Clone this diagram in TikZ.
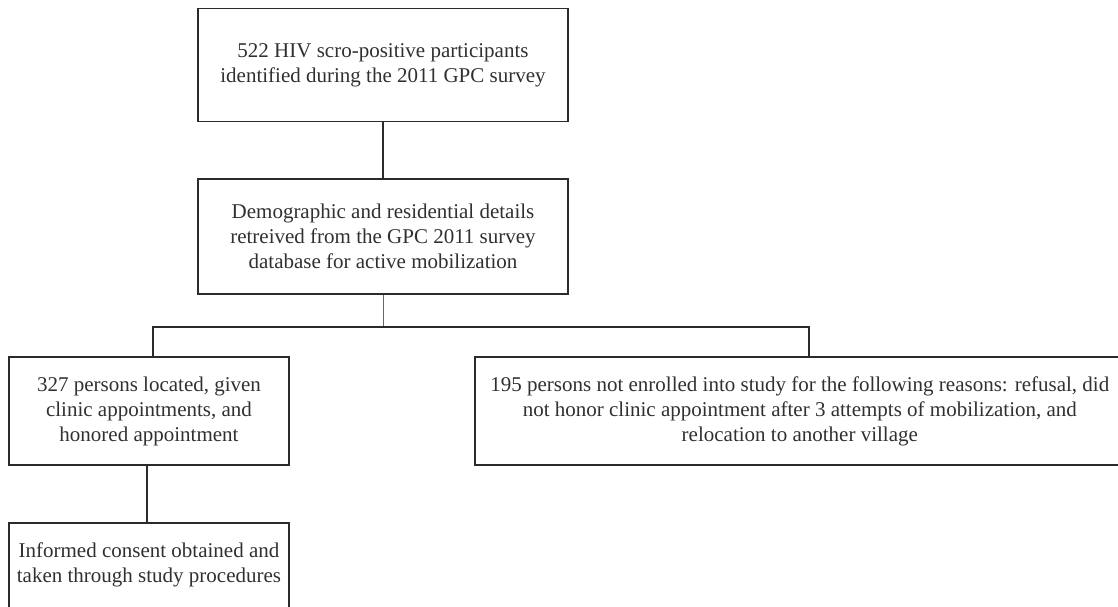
\documentclass[tikz,border=0pt]{standalone}
\usepackage{fontspec}
\setmainfont{Liberation Serif}
\usetikzlibrary{positioning}
\definecolor{boxline}{HTML}{2B2B2B}
\definecolor{boxtext}{HTML}{303030}
\tikzset{
    stagebox/.style={draw=boxline, rectangle, line width=1.8pt, inner sep=0pt, align=center, text=boxtext, font=\fontsize{21}{25}\selectfont},
    link/.style={draw=boxline, line width=2.8pt},
    thinlink/.style={draw=black!60, line width=1pt}
}
\begin{document}
\begin{tikzpicture}[x=1pt, y=-1pt]
        % Frame
        \useasboundingbox (0,0) rectangle (1118,606);
        \clip (0,0) rectangle (1118,606);

        % Survey and database
        \node (survey) [stagebox, minimum width=370pt, minimum height=113pt] at (383,65) {522 HIV scro-positive participants\\identified during the 2011 GPC survey};
        \node (details) [stagebox, minimum width=370pt, minimum height=115pt, below=56pt of survey] {Demographic and residential details\\retreived from the GPC 2011 survey\\database for active mobilization};

        % Outcomes
        \node (located) [stagebox, minimum width=280pt, minimum height=108pt] at (149,411) {327 persons located, given\\clinic appointments, and\\honored appointment};
        \node (notenrolled) [stagebox, minimum width=650pt, minimum height=108pt, right=184pt of located] {195 persons not enrolled into study for the following reasons: refusal, did\\not honor clinic appointment after 3 attempts of mobilization, and\\relocation to another village};
        \node (consent) [stagebox, minimum width=280pt, minimum height=104pt, below=56pt of located] {Informed consent obtained and\\taken through study procedures\\\mbox{}};

        % Bus between the stages
        \coordinate (busL) at (153,327);
        \coordinate (busR) at (809,327);
        \coordinate (busM) at (383,327);

        % Connectors
        \draw[link] (survey) -- (details);
        \draw[thinlink] (details.south) -- (busM);
        \draw[link] (busL |- located.north) -- (busL) -- (busR) -- (busR |- notenrolled.north);
        \draw[link] (located.south -| 147,0) -- (consent.north -| 147,0);

    \end{tikzpicture}
\end{document}
